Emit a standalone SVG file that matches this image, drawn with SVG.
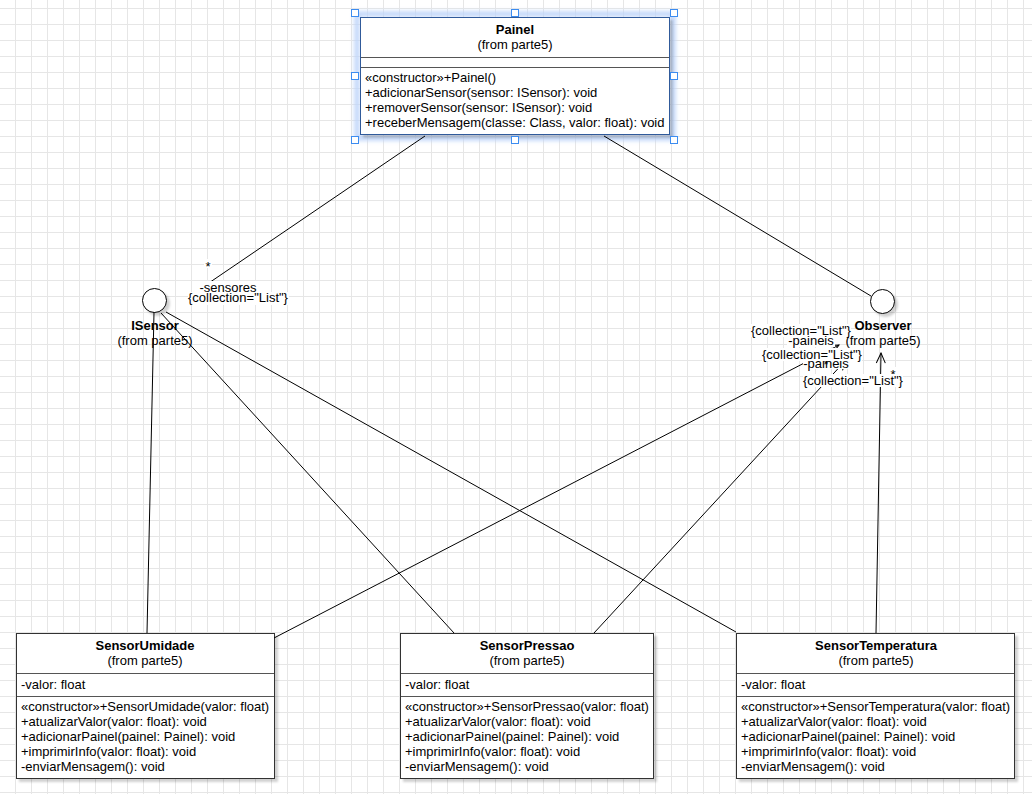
<svg xmlns="http://www.w3.org/2000/svg" width="1032" height="794" viewBox="0 0 1032 794">
  <defs>
    <pattern id="grid" x="-1" y="8" width="16" height="16" patternUnits="userSpaceOnUse">
      <path d="M0.5 0 V16 M0 0.5 H16" fill="none" stroke="#e6e6e6" stroke-width="1"/>
    </pattern>
    <filter id="shadow" x="-10%" y="-10%" width="130%" height="130%">
      <feDropShadow dx="3" dy="3" stdDeviation="1.2" flood-color="#000" flood-opacity="0.18"/>
    </filter>
    <filter id="halo" x="-10%" y="-20%" width="120%" height="140%">
      <feGaussianBlur stdDeviation="2"/>
    </filter>
    <marker id="open" viewBox="0 0 12 12" refX="11" refY="6" markerWidth="12" markerHeight="12" markerUnits="userSpaceOnUse" orient="auto">
      <path d="M1 1.5 L11 6 L1 10.5" fill="none" stroke="#000" stroke-width="1"/>
    </marker>
    <style>
      text { font-family: "Liberation Sans", Arial, Helvetica, sans-serif; font-size: 13px; fill: #000; }
      .title { font-weight: bold; text-anchor: middle; }
      .mid { text-anchor: middle; }
      .box { fill: #fff; stroke: #333; stroke-width: 1; }
      .sep { stroke: #555; stroke-width: 1; }
      .circle { fill: #fff; stroke: #000; stroke-width: 1; }
      .edge { fill: none; stroke: #000; stroke-width: 1; }
      .lbl-bg { fill: #fff; }
      .handle { fill: #fff; stroke: #3c8cf0; stroke-width: 1; }
    </style>
  </defs>

  <!-- background grid -->
  <rect x="0" y="0" width="1032" height="794" fill="#fff"/>
  <rect x="0" y="0" width="1032" height="794" fill="url(#grid)"/>

  <!-- Painel class (selected) -->
  <g id="painel">
    <rect x="357" y="14" width="316" height="124" fill="none" stroke="#bcd3fa" stroke-width="5" filter="url(#halo)"/>
    <rect class="box" x="360.5" y="17.5" width="309" height="117" filter="url(#shadow)"/>
    <rect x="360.5" y="17.5" width="309" height="117" fill="none" stroke="#2f7cf0" stroke-width="1" opacity="0.55"/>
    <line class="sep" x1="361" y1="57.5" x2="669" y2="57.5"/>
    <line class="sep" x1="361" y1="67.5" x2="669" y2="67.5"/>
    <text class="title" x="515" y="34">Painel</text>
    <text class="mid" x="515" y="49">(from parte5)</text>
    <text x="365" y="82">«constructor»+Painel()</text>
    <text x="365" y="97">+adicionarSensor(sensor: ISensor): void</text>
    <text x="365" y="112">+removerSensor(sensor: ISensor): void</text>
    <text x="365" y="127">+receberMensagem(classe: Class, valor: float): void</text>
    <rect class="handle" x="351.5" y="9.5" width="7" height="7"/>
    <rect class="handle" x="511.5" y="9.5" width="7" height="7"/>
    <rect class="handle" x="670.5" y="9.5" width="7" height="7"/>
    <rect class="handle" x="351.5" y="72.5" width="7" height="7"/>
    <rect class="handle" x="670.5" y="72.5" width="7" height="7"/>
    <rect class="handle" x="351.5" y="136.5" width="7" height="7"/>
    <rect class="handle" x="511.5" y="136.5" width="7" height="7"/>
    <rect class="handle" x="670.5" y="136.5" width="7" height="7"/>
  </g>

  <!-- ISensor interface -->
  <g id="isensor">
    <circle class="circle" cx="154.5" cy="300.5" r="12" filter="url(#shadow)"/>
    <text class="title" x="155" y="330">ISensor</text>
    <text class="mid" x="155" y="345">(from parte5)</text>
  </g>

  <!-- Observer interface -->
  <g id="observer">
    <circle class="circle" cx="882.5" cy="301.5" r="12" filter="url(#shadow)"/>
    <text class="title" x="883" y="330">Observer</text>
    <text class="mid" x="883" y="345">(from parte5)</text>
  </g>

  <!-- SensorUmidade class -->
  <g id="sensor-umidade">
    <rect class="box" x="16.5" y="633.5" width="258" height="145" filter="url(#shadow)"/>
    <line class="sep" x1="17" y1="673.5" x2="274" y2="673.5"/>
    <line class="sep" x1="17" y1="696.5" x2="274" y2="696.5"/>
    <text class="title" x="145" y="650">SensorUmidade</text>
    <text class="mid" x="145" y="665">(from parte5)</text>
    <text x="21" y="689">-valor: float</text>
    <text x="21" y="711">«constructor»+SensorUmidade(valor: float)</text>
    <text x="21" y="726">+atualizarValor(valor: float): void</text>
    <text x="21" y="741">+adicionarPainel(painel: Painel): void</text>
    <text x="21" y="756">+imprimirInfo(valor: float): void</text>
    <text x="21" y="771">-enviarMensagem(): void</text>
  </g>

  <!-- SensorPressao class -->
  <g id="sensor-pressao">
    <rect class="box" x="400.5" y="633.5" width="253" height="145" filter="url(#shadow)"/>
    <line class="sep" x1="401" y1="673.5" x2="653" y2="673.5"/>
    <line class="sep" x1="401" y1="696.5" x2="653" y2="696.5"/>
    <text class="title" x="527" y="650">SensorPressao</text>
    <text class="mid" x="527" y="665">(from parte5)</text>
    <text x="405" y="689">-valor: float</text>
    <text x="405" y="711">«constructor»+SensorPressao(valor: float)</text>
    <text x="405" y="726">+atualizarValor(valor: float): void</text>
    <text x="405" y="741">+adicionarPainel(painel: Painel): void</text>
    <text x="405" y="756">+imprimirInfo(valor: float): void</text>
    <text x="405" y="771">-enviarMensagem(): void</text>
  </g>

  <!-- SensorTemperatura class -->
  <g id="sensor-temperatura">
    <rect class="box" x="736.5" y="633.5" width="278" height="145" filter="url(#shadow)"/>
    <line class="sep" x1="737" y1="673.5" x2="1014" y2="673.5"/>
    <line class="sep" x1="737" y1="696.5" x2="1014" y2="696.5"/>
    <text class="title" x="876" y="650">SensorTemperatura</text>
    <text class="mid" x="876" y="665">(from parte5)</text>
    <text x="741" y="689">-valor: float</text>
    <text x="741" y="711">«constructor»+SensorTemperatura(valor: float)</text>
    <text x="741" y="726">+atualizarValor(valor: float): void</text>
    <text x="741" y="741">+adicionarPainel(painel: Painel): void</text>
    <text x="741" y="756">+imprimirInfo(valor: float): void</text>
    <text x="741" y="771">-enviarMensagem(): void</text>
  </g>

  <!-- connectors -->
  <g id="connectors">
    <!-- Painel associations -->
    <path class="edge" d="M425 136 L200 289"/>
    <path class="edge" d="M604 136 L871 296"/>
    <!-- ISensor realizations -->
    <path class="edge" d="M154 312 L147 633"/>
    <path class="edge" d="M161 313 L454 633"/>
    <path class="edge" d="M166 312 L736 632"/>
    <!-- sensors to Observer -->
    <path class="edge" d="M274 638 L839 345" marker-end="url(#open)"/>
    <path class="edge" d="M594 633 L846 360" marker-end="url(#open)"/>
    <path class="edge" d="M876 633 L881 353" marker-end="url(#open)"/>
  </g>

  <!-- connector labels -->
  <g id="connector-labels">
    <!-- Painel -> ISensor -->
    <rect class="lbl-bg" x="204" y="259" width="8" height="9"/>
    <text class="mid" x="208" y="271">*</text>
    <rect class="lbl-bg" x="199" y="281" width="58" height="11"/>
    <text class="mid" x="228" y="292">-sensores</text>
    <rect class="lbl-bg" x="188" y="292" width="101" height="13"/>
    <text class="mid" x="238" y="302">{collection="List"}</text>

    <!-- SensorPressao -> Observer -->
    <rect class="lbl-bg" x="803" y="357" width="46" height="12"/>
    <text class="mid" x="826" y="368">-paineis</text>
    <text class="mid" x="826" y="369">*</text>

    <!-- SensorUmidade -> Observer -->
    <rect class="lbl-bg" x="751" y="324" width="100" height="13"/>
    <text class="mid" x="801" y="335">{collection="List"}</text>
    <rect class="lbl-bg" x="787" y="336" width="48" height="11"/>
    <text class="mid" x="811" y="345">-paineis</text>

    <rect class="lbl-bg" x="762" y="348" width="100" height="13"/>
    <text class="mid" x="812" y="359">{collection="List"}</text>

    <!-- SensorTemperatura -> Observer -->
    <rect class="lbl-bg" x="889" y="367" width="8" height="8"/>
    <text class="mid" x="893" y="379">*</text>
    <rect class="lbl-bg" x="803" y="374" width="100" height="13"/>
    <text class="mid" x="853" y="385">{collection="List"}</text>
  </g>
</svg>
